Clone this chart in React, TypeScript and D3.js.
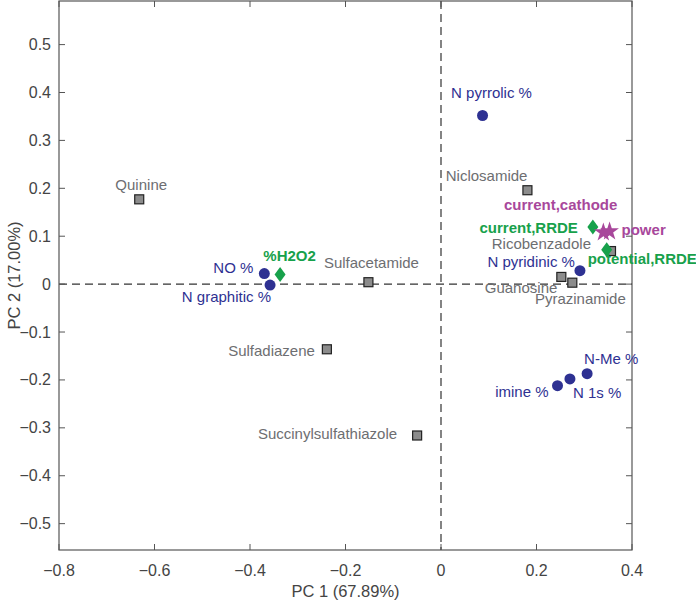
import React from "react";
import * as d3 from "d3";

// ---- data ----
const drugNames = ["Quinine", "Sulfacetamide", "Sulfadiazene", "Succinylsulfathiazole", "Niclosamide", "Ricobenzadole", "Guanosine", "Pyrazinamide"];
const drugPC1 = [-0.632, -0.152, -0.239, -0.05, 0.181, 0.356, 0.252, 0.275];
const drugPC2 = [0.177, 0.004, -0.136, -0.316, 0.196, 0.069, 0.015, 0.003];

const nitrogenNames = ["N pyrrolic %", "NO %", "N graphitic %", "N pyridinic %", "N-Me %", "N 1s %", "imine %"];
const nitrogenPC1 = [0.087, -0.37, -0.358, 0.291, 0.306, 0.27, 0.244];
const nitrogenPC2 = [0.352, 0.022, -0.002, 0.028, -0.187, -0.198, -0.212];

const rrdeNames = ["%H2O2", "current,RRDE", "potential,RRDE"];
const rrdePC1 = [-0.337, 0.318, 0.347];
const rrdePC2 = [0.02, 0.119, 0.072];

const cellNames = ["current,cathode", "power"];
const cellPC1 = [0.34, 0.353];
const cellPC2 = [0.108, 0.11];

const xTicks = [-0.8, -0.6, -0.4, -0.2, 0, 0.2, 0.4];
const yTicks = [-0.5, -0.4, -0.3, -0.2, -0.1, 0, 0.1, 0.2, 0.3, 0.4, 0.5];
const xTitle = "PC 1 (67.89%)";
const yTitle = "PC 2 (17.00%)";

// ---- label placement (layout only) ----
const labelPlace: Record<string, [number, number, string]> = {
  "Quinine": [2, -9, "middle"],
  "Sulfacetamide": [3, -14, "middle"],
  "Sulfadiazene": [-12, 7, "end"],
  "Succinylsulfathiazole": [-20, 3.5, "end"],
  "Niclosamide": [0, -9, "end"],
  "Ricobenzadole": [-20, -1.7, "end"],
  "Guanosine": [-4, 16, "end"],
  "Pyrazinamide": [8, 21, "middle"],
  "N pyrrolic %": [9, -17, "middle"],
  "NO %": [-11, -1, "end"],
  "N graphitic %": [1, 17, "end"],
  "N pyridinic %": [-5, -4, "end"],
  "N-Me %": [-3, -10, "start"],
  "N 1s %": [3, 19, "start"],
  "imine %": [-9, 11, "end"],
  "%H2O2": [9.5, -14, "middle"],
  "current,RRDE": [-15, 5.6, "end"],
  "potential,RRDE": [-19, 14.7, "start"],
  "current,cathode": [14, -22, "end"],
  "power": [12, 4, "start"],
};

const W = 696, H = 603;
const L = 59, R = 632, T = 1, B = 550;
const FONT = "'Liberation Sans', Arial, sans-serif";

export default function App() {
  const x = d3.scaleLinear().domain([-0.8, 0.4]).range([L, R]);
  const y = d3.scaleLinear().domain([-0.555, 0.591]).range([B, T]);
  const axisCol = "#555";
  const gray = "#6d6e71";
  const navy = "#2e3192";
  const green = "#17a14b";
  const purple = "#a8479b";

  const starPath = d3.symbol().type(d3.symbolStar).size(110)() as string;
  const diamondPath = "M0,-7.5 L5.5,0 L0,7.5 L-5.5,0 Z";

  const label = (name: string, px: number, py: number, color: string, bold: boolean) => {
    const [dx, dy, anchor] = labelPlace[name];
    return (
      <text key={"t" + name} x={px + dx} y={py + dy} textAnchor={anchor as any} fill={color}
        fontSize={15} fontWeight={bold ? 700 : 400} fontFamily={FONT}>{name}</text>
    );
  };

  return (
    <svg width={W} height={H} style={{ position: "absolute", left: 0, top: 0, background: "#fff" }}>
      {/* zero lines */}
      <line x1={L} x2={R} y1={y(0)} y2={y(0)} stroke="#333" strokeWidth={1.2} strokeDasharray="8,5" />
      <line x1={x(0)} x2={x(0)} y1={T} y2={B} stroke="#333" strokeWidth={1.2} strokeDasharray="8,5" />

      {/* frame */}
      <rect x={L} y={T} width={R - L} height={B - T} fill="none" stroke={axisCol} strokeWidth={1.2} />
      {xTicks.map((t) => (
        <g key={"xt" + t}>
          <line x1={x(t)} x2={x(t)} y1={B} y2={B - 6} stroke={axisCol} />
          <line x1={x(t)} x2={x(t)} y1={T} y2={T + 6} stroke={axisCol} />
          <text x={x(t)} y={B + 26} textAnchor="middle" fontSize={16} fill="#444" fontFamily={FONT}>{t === 0 ? "0" : d3.format(".1f")(t)}</text>
        </g>
      ))}
      {yTicks.map((t) => (
        <g key={"yt" + t}>
          <line x1={L} x2={L + 6} y1={y(t)} y2={y(t)} stroke={axisCol} />
          <line x1={R} x2={R - 6} y1={y(t)} y2={y(t)} stroke={axisCol} />
          <text x={L - 8} y={y(t) + 5.5} textAnchor="end" fontSize={16} fill="#444" fontFamily={FONT}>{t === 0 ? "0" : d3.format(".1f")(t)}</text>
        </g>
      ))}
      <text x={(L + R) / 2} y={597} textAnchor="middle" fontSize={16.5} fill="#444" fontFamily={FONT}>{xTitle}</text>
      <text transform={`translate(20,${(T + B) / 2}) rotate(-90)`} textAnchor="middle" fontSize={16.5} fill="#444" fontFamily={FONT}>{yTitle}</text>

      {/* drugs */}
      {drugNames.map((n, i) => (
        <rect key={n} x={x(drugPC1[i]) - 4.5} y={y(drugPC2[i]) - 4.5} width={9} height={9} fill="#8c8c8c" stroke="#222" strokeWidth={1.2} />
      ))}
      {drugNames.map((n, i) => label(n, x(drugPC1[i]), y(drugPC2[i]), gray, false))}

      {/* nitrogen species */}
      {nitrogenNames.map((n, i) => (
        <circle key={n} cx={x(nitrogenPC1[i])} cy={y(nitrogenPC2[i])} r={5.5} fill={navy} />
      ))}
      {nitrogenNames.map((n, i) => label(n, x(nitrogenPC1[i]), y(nitrogenPC2[i]), navy, false))}

      {/* RRDE */}
      {rrdeNames.map((n, i) => (
        <path key={n} d={diamondPath} transform={`translate(${x(rrdePC1[i])},${y(rrdePC2[i])})`} fill={green} />
      ))}
      {rrdeNames.map((n, i) => label(n, x(rrdePC1[i]), y(rrdePC2[i]), green, true))}

      {/* cell */}
      {cellNames.map((n, i) => (
        <path key={n} d={starPath} transform={`translate(${x(cellPC1[i])},${y(cellPC2[i])})`} fill={purple} />
      ))}
      {cellNames.map((n, i) => label(n, x(cellPC1[i]), y(cellPC2[i]), purple, true))}
    </svg>
  );
}
